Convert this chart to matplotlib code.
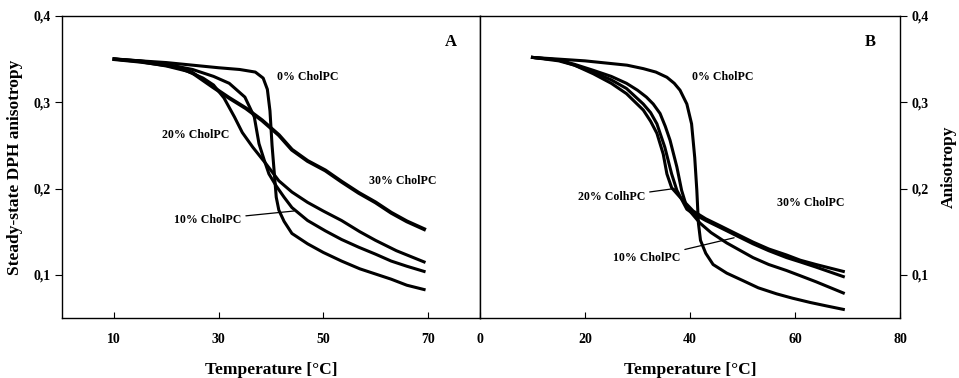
import matplotlib.pyplot as plt

plt.rcParams["font.family"] = ["Liberation Serif", "DejaVu Serif"]
plt.rcParams["font.weight"] = "bold"

# panel A (left) - temperature [C] and anisotropy
a0_t = [10, 15, 20, 25, 30, 34, 37, 38.5, 39.3, 39.8, 40.2, 40.6, 41, 41.5, 42.5, 44, 47, 50, 53.5, 57, 60, 63, 66, 69.3]
a0_r = [0.350, 0.348, 0.346, 0.343, 0.340, 0.338, 0.335, 0.328, 0.315, 0.290, 0.250, 0.220, 0.190, 0.175, 0.162, 0.148, 0.136, 0.126, 0.116, 0.107, 0.101, 0.095, 0.088, 0.083]
a10_t = [10, 15, 20, 25, 29, 32, 35, 36.8, 37.7, 38.7, 39.6, 41, 42.5, 44, 47, 50.4, 53.5, 56.8, 60, 63, 66, 69.3]
a10_r = [0.350, 0.348, 0.344, 0.338, 0.330, 0.322, 0.306, 0.283, 0.252, 0.233, 0.217, 0.203, 0.190, 0.178, 0.163, 0.151, 0.141, 0.132, 0.124, 0.116, 0.110, 0.104]
a20_t = [10, 15, 20, 24, 27, 29, 31, 33, 34.5, 36.5, 39, 41.5, 44, 47, 50, 53.5, 57, 60, 64, 69.3]
a20_r = [0.350, 0.347, 0.342, 0.336, 0.328, 0.320, 0.305, 0.283, 0.265, 0.248, 0.229, 0.209, 0.196, 0.184, 0.174, 0.163, 0.150, 0.140, 0.128, 0.115]
a30_t = [10, 15, 20, 22.5, 25, 28.8, 32, 35.2, 38.3, 41.5, 44, 47, 50.4, 53.5, 56.8, 60, 63, 66, 69.3]
a30_r = [0.350, 0.347, 0.343, 0.340, 0.334, 0.318, 0.305, 0.293, 0.279, 0.262, 0.245, 0.232, 0.221, 0.208, 0.195, 0.184, 0.172, 0.162, 0.153]

# panel B (right)
b0_t = [10, 15, 20, 24.8, 28, 31.1, 33.5, 35.6, 37, 38.1, 39.4, 40.3, 40.9, 41.3, 41.6, 42, 43, 44.4, 47, 50.2, 53, 56.5, 59.5, 62.9, 66, 69.2]
b0_r = [0.352, 0.350, 0.348, 0.345, 0.343, 0.339, 0.335, 0.329, 0.322, 0.314, 0.298, 0.275, 0.236, 0.198, 0.160, 0.140, 0.125, 0.112, 0.102, 0.093, 0.085, 0.078, 0.073, 0.068, 0.064, 0.060]
b10_t = [10, 15, 18, 21.6, 25, 27.9, 30, 31.7, 33, 34.3, 35.3, 36.2, 37.5, 38.4, 39.4, 41.9, 44, 47, 52, 55, 58.4, 61, 64, 69.2]
b10_r = [0.352, 0.349, 0.344, 0.337, 0.330, 0.322, 0.314, 0.306, 0.298, 0.287, 0.272, 0.256, 0.225, 0.198, 0.178, 0.160, 0.149, 0.137, 0.120, 0.112, 0.105, 0.099, 0.092, 0.079]
b20_t = [10, 15, 18, 21.6, 25, 27.9, 31.1, 32.5, 33.7, 35.2, 36.5, 37.5, 39.4, 40.6, 43, 45.7, 49, 52, 55, 58.4, 61, 64, 69.2]
b20_r = [0.352, 0.349, 0.343, 0.335, 0.326, 0.316, 0.298, 0.288, 0.275, 0.248, 0.217, 0.198, 0.176, 0.171, 0.163, 0.155, 0.145, 0.136, 0.128, 0.120, 0.115, 0.109, 0.098]
b30_t = [10, 15, 18, 21.6, 25, 27.9, 31.1, 32.5, 33.7, 34.9, 35.6, 36.5, 38.1, 40.6, 43, 45.7, 49, 52, 55, 58.4, 61, 64, 69.2]
b30_r = [0.352, 0.348, 0.343, 0.333, 0.322, 0.310, 0.291, 0.278, 0.264, 0.240, 0.217, 0.201, 0.190, 0.174, 0.165, 0.157, 0.147, 0.138, 0.130, 0.123, 0.117, 0.112, 0.104]

a_xticks = [10, 30, 50, 70]
b_xticks = [0, 20, 40, 60, 80]
yticks = [0.1, 0.2, 0.3, 0.4]
ylabels = ["0,1", "0,2", "0,3", "0,4"]

fig = plt.figure(figsize=(9.59, 3.78), dpi=100)
ax_a = fig.add_axes([0.0647, 0.1587, 0.4358, 0.799])
ax_b = fig.add_axes([0.5005, 0.1587, 0.438, 0.799])

lw = 2.2
for t, r in [(a0_t, a0_r), (a10_t, a10_r), (a20_t, a20_r)]:
    ax_a.plot(t, r, color="black", lw=lw)
ax_a.plot(a30_t, a30_r, color="black", lw=2.8)  # noisiest trace, drawn a bit wider
for t, r in [(b0_t, b0_r), (b10_t, b10_r), (b20_t, b20_r), (b30_t, b30_r)]:
    ax_b.plot(t, r, color="black", lw=lw)

for ax in (ax_a, ax_b):
    ax.set_xlim(0, 80)
    ax.set_ylim(0.05, 0.4)
    ax.set_yticks(yticks)
    ax.set_yticklabels(ylabels)
    ax.set_xlabel("Temperature [°C]", fontsize=12.5, fontweight="bold", labelpad=11)
    for s in ax.spines.values():
        s.set_linewidth(1.0)

ax_a.set_xticks(a_xticks)
ax_a.set_xticklabels([str(v) for v in a_xticks])
ax_b.set_xticks(b_xticks)
ax_b.set_xticklabels([str(v) for v in b_xticks])

ax_a.tick_params(axis="x", direction="in", length=4, pad=11, labelsize=10)
ax_a.tick_params(axis="y", direction="out", length=5, pad=3, labelsize=10)
ax_a.set_ylabel("Steady-state DPH anisotropy", fontsize=12.5, fontweight="bold", labelpad=8)

ax_b.tick_params(axis="x", direction="in", length=4, pad=11, labelsize=10)
ax_b.yaxis.tick_right()
ax_b.yaxis.set_label_position("right")
ax_b.tick_params(axis="y", direction="out", length=5, pad=3, labelsize=10)
ax_b.set_ylabel("Anisotropy", fontsize=12.5, fontweight="bold", labelpad=9)

lab = dict(fontsize=8.6, fontweight="bold", va="center", ha="left")
ax_a.text(41.2, 0.329, "0% CholPC", **lab)
ax_a.text(19.2, 0.262, "20% CholPC", **lab)
ax_a.text(58.8, 0.209, "30% CholPC", **lab)
ax_a.annotate("10% CholPC", xy=(44.4, 0.174), xytext=(21.5, 0.164),
              arrowprops=dict(arrowstyle="-", lw=0.9, color="black", shrinkA=1, shrinkB=0), **lab)
ax_a.text(74.5, 0.370, "A", fontsize=12, fontweight="bold", ha="center", va="center")

ax_b.text(40.3, 0.329, "0% CholPC", **lab)
ax_b.annotate("20% ColhPC", xy=(37.0, 0.200), xytext=(18.7, 0.190),
              arrowprops=dict(arrowstyle="-", lw=0.9, color="black", shrinkA=1, shrinkB=0), **lab)
ax_b.text(56.5, 0.183, "30% CholPC", **lab)
ax_b.annotate("10% CholPC", xy=(48.4, 0.143), xytext=(25.4, 0.119),
              arrowprops=dict(arrowstyle="-", lw=0.9, color="black", shrinkA=1, shrinkB=0), **lab)
ax_b.text(74.4, 0.370, "B", fontsize=12, fontweight="bold", ha="center", va="center")

fig.savefig("out.png", dpi=100)
